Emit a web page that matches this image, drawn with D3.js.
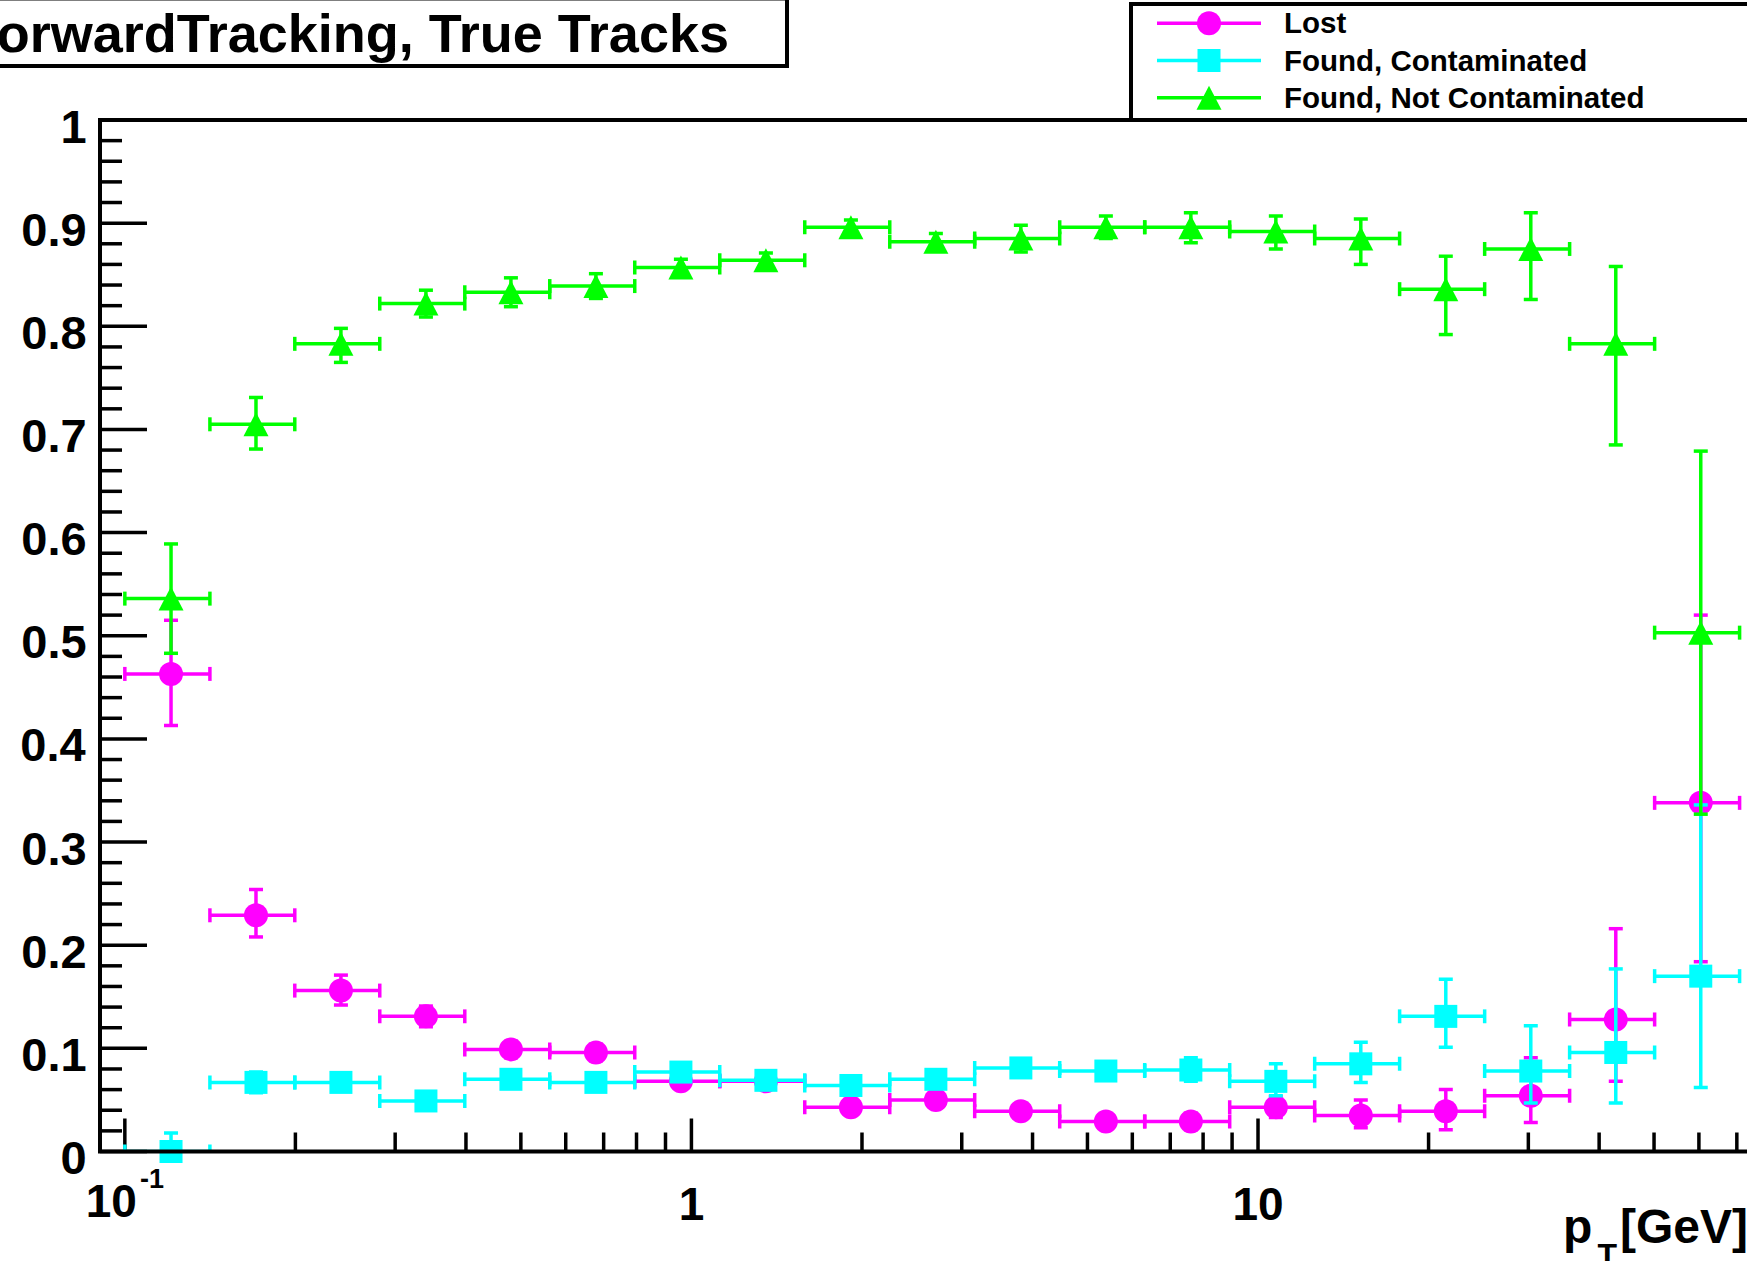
<!DOCTYPE html>
<html>
<head>
<meta charset="utf-8">
<script src="https://cdn.jsdelivr.net/npm/d3@7"></script>
<style>
  html, body { margin: 0; padding: 0; background: #fff; overflow: hidden; }
  svg { display: block; }
  text { font-family: "Liberation Sans", Arial, Helvetica, sans-serif; font-weight: bold; fill: #000; }
</style>
</head>
<body>
<svg id="chart" width="1747" height="1261"></svg>
<script>
// pT bin edges [GeV] (log-spaced bins); bin i spans binEdges[i]..binEdges[i+1]
const binEdges = [0.1, 0.1413, 0.1995, 0.2818, 0.3981, 0.5623, 0.7943, 1.122, 1.585, 2.239,
                  3.162, 4.467, 6.310, 8.913, 12.59, 17.78, 25.12, 35.48, 50.12, 70.79];

// Lost
const lostVal   = [0.463, 0.229, 0.156, 0.131, 0.099, 0.096, 0.068, 0.068, 0.043, 0.050,
                   0.039, 0.029, 0.029, 0.043, 0.035, 0.039, 0.054, 0.128, 0.338];
const lostErrUp = [0.052, 0.025, 0.015, 0.010, 0.008, 0.008, 0.006, 0.006, 0.005, 0.006,
                   0.006, 0.006, 0.008, 0.010, 0.015, 0.021, 0.037, 0.088, 0.182];
const lostErrDn = [0.050, 0.021, 0.014, 0.010, 0.008, 0.008, 0.006, 0.006, 0.005, 0.006,
                   0.006, 0.006, 0.008, 0.010, 0.012, 0.018, 0.026, 0.060, 0.154];

// Found, Contaminated
const contVal   = [0.000, 0.067, 0.067, 0.049, 0.070, 0.067, 0.077, 0.069, 0.064, 0.070,
                   0.081, 0.078, 0.079, 0.068, 0.085, 0.131, 0.078, 0.096, 0.170];
const contErrUp = [0.018, 0.010, 0.008, 0.007, 0.007, 0.006, 0.006, 0.006, 0.006, 0.007,
                   0.008, 0.009, 0.012, 0.017, 0.021, 0.036, 0.044, 0.081, 0.166];
const contErrDn = [0.000, 0.010, 0.008, 0.007, 0.007, 0.006, 0.006, 0.006, 0.006, 0.007,
                   0.008, 0.009, 0.011, 0.014, 0.018, 0.030, 0.031, 0.049, 0.108];

// Found, Not Contaminated
const goodVal   = [0.536, 0.705, 0.783, 0.822, 0.833, 0.839, 0.857, 0.864, 0.896, 0.882,
                   0.885, 0.896, 0.896, 0.892, 0.885, 0.836, 0.875, 0.783, 0.503];
const goodErrUp = [0.053, 0.026, 0.015, 0.013, 0.014, 0.012, 0.008, 0.007, 0.007, 0.008,
                   0.013, 0.011, 0.014, 0.015, 0.019, 0.032, 0.035, 0.075, 0.176];
const goodErrDn = [0.053, 0.024, 0.018, 0.013, 0.014, 0.012, 0.008, 0.007, 0.007, 0.008,
                   0.013, 0.011, 0.015, 0.017, 0.025, 0.044, 0.049, 0.098, 0.176];

const seriesNames = ["Lost", "Found, Contaminated", "Found, Not Contaminated"];
const seriesColors = ["#ff00ff", "#00ffff", "#00ff00"];
const seriesMarkers = ["circle", "square", "triangle"];

const yTickValues = [0, 0.1, 0.2, 0.3, 0.4, 0.5, 0.6, 0.7, 0.8, 0.9, 1];
const yTickLabels = ["0", "0.1", "0.2", "0.3", "0.4", "0.5", "0.6", "0.7", "0.8", "0.9", "1"];
const xTickValues = [0.1, 1, 10];
const xTickLabels = [["10", "-1"], ["1", ""], ["10", ""]];

const titleText = "ForwardTracking, True Tracks";
const xTitle = ["p", "T", "[GeV]"];

// ---------------------------------------------------------------------------
const svg = d3.select("#chart");
const W = 1747, H = 1261;
const frame = { left: 100, top: 120, bottom: 1151.5 };

const x = d3.scaleLog().domain([0.0904, 100]).range([frame.left, 1824.6]);
const y = d3.scaleLinear().domain([0, 1]).range([frame.bottom, frame.top]);
const frameRight = x.range()[1];

svg.append("rect").attr("width", W).attr("height", H).attr("fill", "#fff");

const defs = svg.append("defs");
defs.append("clipPath").attr("id", "frameClip")
  .append("rect")
  .attr("x", frame.left).attr("y", frame.top)
  .attr("width", frameRight - frame.left).attr("height", frame.bottom - frame.top);

// ---- axes ticks ----
const axisG = svg.append("g").attr("stroke", "#000").attr("stroke-width", 3.5);

// y: major every 0.1, minor every 0.02
const yMinor = d3.range(0, 51).map(i => i / 50).filter(v => Math.round(v * 50) % 5 !== 0);
axisG.selectAll(".ymaj").data(yTickValues).join("line")
  .attr("x1", frame.left).attr("x2", frame.left + 47)
  .attr("y1", d => y(d)).attr("y2", d => y(d));
axisG.selectAll(".ymin").data(yMinor).join("line")
  .attr("x1", frame.left).attr("x2", frame.left + 22)
  .attr("y1", d => y(d)).attr("y2", d => y(d));

// x: log axis, majors at decades, minors at 2..9 x decade
const xMinor = [];
[0.1, 1, 10].forEach(dec => { for (let m = 2; m <= 9; m++) xMinor.push(m * dec); });
axisG.selectAll(".xmaj").data(xTickValues).join("line")
  .attr("x1", d => x(d)).attr("x2", d => x(d))
  .attr("y1", frame.bottom).attr("y2", frame.bottom - 33);
axisG.selectAll(".xmin").data(xMinor.filter(v => x(v) < W + 5)).join("line")
  .attr("x1", d => x(d)).attr("x2", d => x(d))
  .attr("y1", frame.bottom).attr("y2", frame.bottom - 19);

// ---- tick labels ----
const measureCtx = document.createElement("canvas").getContext("2d");
measureCtx.font = "bold 47px 'Liberation Sans', Arial, sans-serif";

// y labels right-aligned on their ink edge
svg.append("g").selectAll("text").data(yTickValues).join("text")
  .attr("font-size", 47)
  .attr("x", (d, i) => 85.5 - measureCtx.measureText(yTickLabels[i]).actualBoundingBoxRight)
  .attr("y", d => y(d) + 22.5)
  .text((d, i) => yTickLabels[i]);

const xLab = svg.append("g").selectAll("text").data(xTickValues).join("text")
  .attr("font-size", 46)
  .attr("text-anchor", "middle")
  .attr("x", d => x(d))
  .attr("y", (d, i) => xTickLabels[i][1] ? 1217 : 1220);
xLab.append("tspan").text((d, i) => xTickLabels[i][0]);
xLab.filter((d, i) => xTickLabels[i][1] !== "")
  .append("tspan").attr("font-size", 27).attr("dx", 3).attr("dy", -29)
  .text(d => xTickLabels[xTickValues.indexOf(d)][1]);

// ---- axis title ----
const xt = svg.append("text").attr("font-size", 48).attr("text-anchor", "end")
  .attr("x", 1748).attr("y", 1242.7);
xt.append("tspan").text(xTitle[0]);
xt.append("tspan").attr("font-size", 32).attr("dx", 5).attr("dy", 23).text(xTitle[1]);
xt.append("tspan").attr("dx", 3).attr("dy", -23).text(xTitle[2]);

// ---- markers ----
function drawMarker(g, type, cx, cy, color) {
  if (type === "circle") {
    g.append("circle").attr("cx", cx).attr("cy", cy).attr("r", 12).attr("fill", color);
  } else if (type === "square") {
    g.append("rect").attr("x", cx - 11.5).attr("y", cy - 11.5)
      .attr("width", 23).attr("height", 23).attr("fill", color);
  } else {
    const hw = 12.5, hh = 12;
    g.append("path")
      .attr("d", `M${cx - hw},${cy + hh}L${cx + hw},${cy + hh}L${cx},${cy - hh}Z`)
      .attr("fill", color);
  }
}

// ---- data series ----
const seriesData = [
  { val: lostVal, up: lostErrUp, dn: lostErrDn },
  { val: contVal, up: contErrUp, dn: contErrDn },
  { val: goodVal, up: goodErrUp, dn: goodErrDn }
];
const cap = 7;

seriesData.forEach((s, si) => {
  const color = seriesColors[si];
  // points sit at the (linear) bin centre
  const pts = s.val.map((v, i) => ({
    lo: binEdges[i], hi: binEdges[i + 1],
    c: (binEdges[i] + binEdges[i + 1]) / 2,
    v, up: s.up[i], dn: s.dn[i]
  }));
  const g = svg.append("g");
  const eg = g.append("g").attr("clip-path", "url(#frameClip)")
    .attr("stroke", color).attr("stroke-width", 3.5).attr("fill", "none");
  pts.forEach(p => {
    const cy = y(p.v), cx = x(p.c), x0 = x(p.lo), x1 = x(p.hi);
    eg.append("line").attr("x1", x0).attr("x2", x1).attr("y1", cy).attr("y2", cy);
    eg.append("line").attr("x1", x0).attr("x2", x0).attr("y1", cy - cap).attr("y2", cy + cap);
    eg.append("line").attr("x1", x1).attr("x2", x1).attr("y1", cy - cap).attr("y2", cy + cap);
    const yt = y(p.v + p.up), yb = y(p.v - p.dn);
    eg.append("line").attr("x1", cx).attr("x2", cx).attr("y1", yt).attr("y2", yb);
    eg.append("line").attr("x1", cx - cap).attr("x2", cx + cap).attr("y1", yt).attr("y2", yt);
    eg.append("line").attr("x1", cx - cap).attr("x2", cx + cap).attr("y1", yb).attr("y2", yb);
  });
  const mg = g.append("g");
  pts.forEach(p => drawMarker(mg, seriesMarkers[si], x(p.c), y(p.v), color));
});

// ---- frame ----
svg.append("rect")
  .attr("x", frame.left).attr("y", frame.top)
  .attr("width", frameRight - frame.left).attr("height", frame.bottom - frame.top)
  .attr("fill", "none").attr("stroke", "#000").attr("stroke-width", 4);

// ---- title box ----
svg.append("rect").attr("x", -20).attr("y", -1.5).attr("width", 807).attr("height", 67.5)
  .attr("fill", "#fff").attr("stroke", "#000").attr("stroke-width", 4);
svg.append("text").attr("font-size", 54).attr("text-anchor", "end")
  .attr("x", 729).attr("y", 51.5).text(titleText);

// ---- legend ----
const leg = svg.append("g");
leg.append("rect").attr("x", 1131).attr("y", 4).attr("width", 700).attr("height", frame.top - 4)
  .attr("fill", "#fff").attr("stroke", "#000").attr("stroke-width", 4);
const rowY = [23.3, 60.5, 97.7];
seriesNames.forEach((name, i) => {
  const gy = rowY[i];
  leg.append("line").attr("x1", 1157).attr("x2", 1261).attr("y1", gy).attr("y2", gy)
    .attr("stroke", seriesColors[i]).attr("stroke-width", 3.5);
  drawMarker(leg, seriesMarkers[i], 1209, gy, seriesColors[i]);
  leg.append("text").attr("font-size", 29.5).attr("x", 1284).attr("y", gy + 10).text(name);
});
</script>
</body>
</html>
